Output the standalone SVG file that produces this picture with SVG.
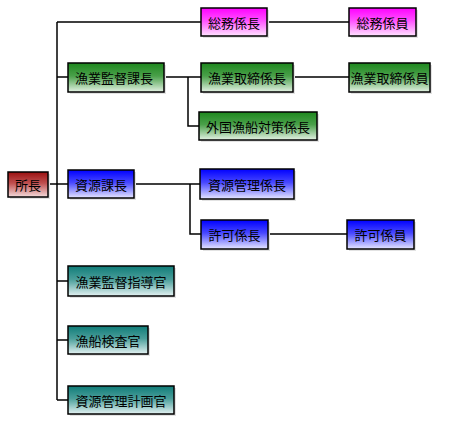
<svg xmlns="http://www.w3.org/2000/svg" width="450" height="423" viewBox="0 0 450 423">
<style>
.box{stroke:#000;stroke-width:1.5}
.sh{fill:#e2e2e2}
text{font-family:"Noto Sans CJK JP","Noto Sans CJK SC",sans-serif;font-size:13px;fill:#000;text-anchor:middle;dominant-baseline:central}
.ln{stroke:#000;stroke-width:1.5;fill:none}
</style>
<defs>
<linearGradient id="gr" x1="0" y1="0" x2="0" y2="1"><stop offset="0" stop-color="#9a1010"/><stop offset="0.45" stop-color="#c05050"/><stop offset="1" stop-color="#f4dcdc"/></linearGradient>
<linearGradient id="gm" x1="0" y1="0" x2="0" y2="1"><stop offset="0" stop-color="#ff00ff"/><stop offset="0.45" stop-color="#ff50ff"/><stop offset="1" stop-color="#ffe4ff"/></linearGradient>
<linearGradient id="gg" x1="0" y1="0" x2="0" y2="1"><stop offset="0" stop-color="#1e881e"/><stop offset="0.45" stop-color="#4aa04a"/><stop offset="1" stop-color="#e4f2e4"/></linearGradient>
<linearGradient id="gb" x1="0" y1="0" x2="0" y2="1"><stop offset="0" stop-color="#0000ff"/><stop offset="0.45" stop-color="#4848ff"/><stop offset="1" stop-color="#e6e6ff"/></linearGradient>
<linearGradient id="gt" x1="0" y1="0" x2="0" y2="1"><stop offset="0" stop-color="#107c78"/><stop offset="0.45" stop-color="#4a9e9a"/><stop offset="1" stop-color="#e4f2f2"/></linearGradient>
</defs>
<rect width="450" height="423" fill="#fff"/>
<g id="connectors">
<path class="ln" d="M57,22 V400"/>
<path class="ln" d="M57,22 H201 M267,22 H349"/>
<path class="ln" d="M57,77 H68 M164,77 H201 M293,77 H349 M188,77 V126 H199"/>
<path class="ln" d="M48,184 H68 M134,184 H200 M190,184 V234 H201 M268,234 H347"/>
<path class="ln" d="M57,281 H68 M57,340 H68 M57,400 H68"/>
</g>
<g id="n-shocho"><rect class="sh" x="10" y="174" width="40" height="25"/><rect class="box" x="8" y="172" width="40" height="25" fill="url(#gr)"/><text x="28" y="184.5">所長</text></g>
<g id="n-somu-kakaricho"><rect class="sh" x="203" y="10" width="66" height="28"/><rect class="box" x="201" y="8" width="66" height="28" fill="url(#gm)"/><text x="234" y="22">総務係長</text></g>
<g id="n-somu-kakariin"><rect class="sh" x="351" y="10" width="67" height="28"/><rect class="box" x="349" y="8" width="67" height="28" fill="url(#gm)"/><text x="382.5" y="22">総務係員</text></g>
<g id="n-gyogyo-kantoku-kacho"><rect class="sh" x="70" y="65" width="96" height="29"/><rect class="box" x="68" y="63" width="96" height="29" fill="url(#gg)"/><text x="114" y="77.5">漁業監督課長</text></g>
<g id="n-torishimari-kakaricho"><rect class="sh" x="203" y="65" width="92" height="29"/><rect class="box" x="201" y="63" width="92" height="29" fill="url(#gg)"/><text x="247" y="77.5">漁業取締係長</text></g>
<g id="n-torishimari-kakariin"><rect class="sh" x="351" y="65" width="81" height="29"/><rect class="box" x="349" y="63" width="81" height="29" fill="url(#gg)"/><text x="389.5" y="77.5">漁業取締係員</text></g>
<g id="n-gaikoku"><rect class="sh" x="201" y="114" width="118" height="28"/><rect class="box" x="199" y="112" width="118" height="28" fill="url(#gg)"/><text x="258" y="126">外国漁船対策係長</text></g>
<g id="n-shigen-kacho"><rect class="sh" x="70" y="172" width="66" height="28"/><rect class="box" x="68" y="170" width="66" height="28" fill="url(#gb)"/><text x="101" y="184">資源課長</text></g>
<g id="n-shigen-kanri-kakaricho"><rect class="sh" x="202" y="171" width="94" height="30"/><rect class="box" x="200" y="169" width="94" height="30" fill="url(#gb)"/><text x="247" y="184">資源管理係長</text></g>
<g id="n-kyoka-kakaricho"><rect class="sh" x="203" y="222" width="67" height="29"/><rect class="box" x="201" y="220" width="67" height="29" fill="url(#gb)"/><text x="234.5" y="234.5">許可係長</text></g>
<g id="n-kyoka-kakariin"><rect class="sh" x="349" y="222" width="67" height="29"/><rect class="box" x="347" y="220" width="67" height="29" fill="url(#gb)"/><text x="380.5" y="234.5">許可係員</text></g>
<g id="n-shidokan"><rect class="sh" x="70" y="268" width="106" height="30"/><rect class="box" x="68" y="266" width="106" height="30" fill="url(#gt)"/><text x="121" y="281">漁業監督指導官</text></g>
<g id="n-kensakan"><rect class="sh" x="70" y="328" width="80" height="28"/><rect class="box" x="68" y="326" width="80" height="28" fill="url(#gt)"/><text x="108" y="340">漁船検査官</text></g>
<g id="n-keikakukan"><rect class="sh" x="70" y="388" width="106" height="28"/><rect class="box" x="68" y="386" width="106" height="28" fill="url(#gt)"/><text x="121" y="400">資源管理計画官</text></g>
</svg>
